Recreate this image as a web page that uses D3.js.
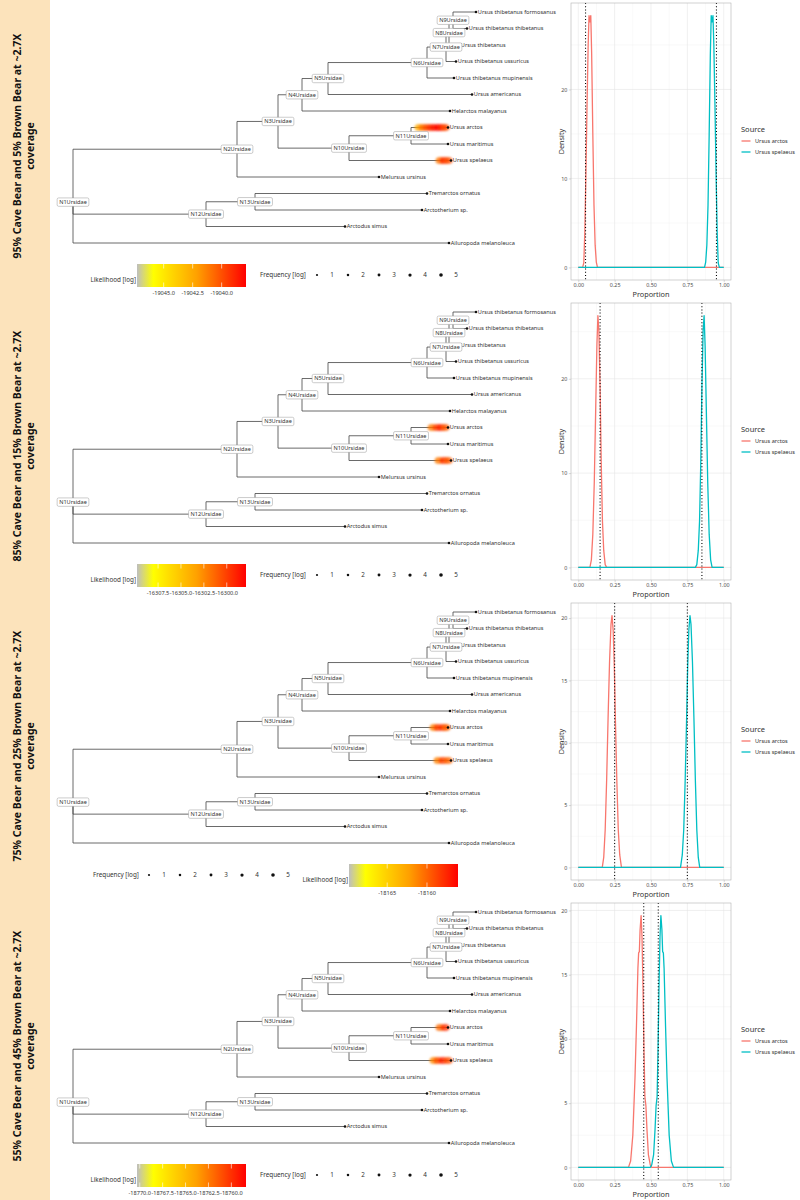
<!DOCTYPE html>
<html><head><meta charset="utf-8">
<script src="https://cdn.jsdelivr.net/npm/d3@7"></script>
<style>body{margin:0;background:#fff;} svg{display:block;font-family:"Noto Sans",sans-serif;}</style>
</head><body><svg id="c" width="800" height="1200"></svg>
<script>
// ---------------- DATA ----------------
const rowTitles = [
  ["95% Cave Bear and 5% Brown Bear at ~2.7X", "coverage"],
  ["85% Cave Bear and 15% Brown Bear at ~2.7X", "coverage"],
  ["75% Cave Bear and 25% Brown Bear at ~2.7X", "coverage"],
  ["55% Cave Bear and 45% Brown Bear at ~2.7X", "coverage"]
];
const sources = ["Ursus arctos", "Ursus spelaeus"];
const trueProportions = [[0.05, 0.95], [0.15, 0.85], [0.25, 0.75], [0.45, 0.55]];

// density curves [proportion, density]
const densityArctos = [
  [[0,0],[0.030,0],[0.038,0.5],[0.045,4],[0.052,10],[0.060,18],[0.068,25],[0.074,28.3],[0.080,27.6],[0.086,28.3],[0.092,24],[0.100,15],[0.108,7],[0.116,2.5],[0.124,0.6],[0.132,0],[1,0]],
  [[0,0],[0.080,0],[0.090,0.8],[0.100,3.5],[0.110,9],[0.120,17],[0.128,23.5],[0.135,26.7],[0.142,25],[0.150,19],[0.158,11],[0.166,5],[0.175,1.8],[0.185,0.3],[0.195,0],[1,0]],
  [[0,0],[0.165,0],[0.175,0.8],[0.185,3],[0.195,7],[0.205,12],[0.215,16.5],[0.225,19.5],[0.232,20.2],[0.240,19],[0.248,16],[0.256,11.5],[0.265,7],[0.275,3],[0.285,1],[0.297,0],[1,0]],
  [[0,0],[0.345,0],[0.360,0.5],[0.375,2.5],[0.390,7],[0.400,11],[0.410,15.5],[0.415,16.7],[0.420,16.8],[0.425,18.5],[0.432,19.6],[0.438,18],[0.445,14],[0.452,9],[0.458,5.5],[0.465,4.8],[0.472,3],[0.482,1],[0.495,0.2],[0.505,0],[1,0]]
];
const densitySpelaeus = [
  [[0,0],[0.868,0],[0.876,0.6],[0.884,2.5],[0.892,7],[0.900,15],[0.908,24],[0.914,28.3],[0.920,27.6],[0.926,28.3],[0.932,25],[0.940,18],[0.948,10],[0.955,4],[0.962,0.5],[0.970,0],[1,0]],
  [[0,0],[0.805,0],[0.815,0.3],[0.825,1.8],[0.834,5],[0.842,11],[0.850,19],[0.858,25],[0.865,26.7],[0.872,23.5],[0.880,17],[0.890,9],[0.900,3.5],[0.910,0.8],[0.920,0],[1,0]],
  [[0,0],[0.703,0],[0.715,1],[0.725,3],[0.735,7],[0.744,11.5],[0.752,16],[0.760,19],[0.768,20.2],[0.775,19.5],[0.785,16.5],[0.795,12],[0.805,7],[0.815,3],[0.825,0.8],[0.835,0],[1,0]],
  [[0,0],[0.495,0],[0.505,0.2],[0.518,1],[0.528,3],[0.535,4.8],[0.542,5.5],[0.548,9],[0.555,14],[0.562,18],[0.568,19.6],[0.575,18.5],[0.580,16.8],[0.585,16.7],[0.590,15.5],[0.600,11],[0.610,7],[0.625,2.5],[0.640,0.5],[0.655,0],[1,0]]
];

// tree: tips in plotting order (top to bottom)
const tipOrder = [
  "Ursus thibetanus formosanus","Ursus thibetanus thibetanus","Ursus thibetanus",
  "Ursus thibetanus ussuricus","Ursus thibetanus mupinensis","Ursus americanus",
  "Helarctos malayanus","Ursus arctos","Ursus maritimus","Ursus spelaeus",
  "Melursus ursinus","Tremarctos ornatus","Arctotherium sp.","Arctodus simus",
  "Ailuropoda melanoleuca"
];
// [node, parent, distance from root]
const treeNodes = [
  ["N1Ursidae", null, 0],
  ["N2Ursidae", "N1Ursidae", 1.64],
  ["N3Ursidae", "N2Ursidae", 2.05],
  ["N4Ursidae", "N3Ursidae", 2.29],
  ["N5Ursidae", "N4Ursidae", 2.55],
  ["N6Ursidae", "N5Ursidae", 3.54],
  ["N7Ursidae", "N6Ursidae", 3.73],
  ["N8Ursidae", "N7Ursidae", 3.76],
  ["N9Ursidae", "N8Ursidae", 3.80],
  ["Ursus thibetanus formosanus", "N9Ursidae", 4.03],
  ["Ursus thibetanus thibetanus", "N9Ursidae", 3.94],
  ["Ursus thibetanus", "N8Ursidae", 3.86],
  ["Ursus thibetanus ussuricus", "N7Ursidae", 3.83],
  ["Ursus thibetanus mupinensis", "N6Ursidae", 3.81],
  ["Ursus americanus", "N5Ursidae", 3.99],
  ["Helarctos malayanus", "N4Ursidae", 3.77],
  ["N10Ursidae", "N3Ursidae", 2.76],
  ["N11Ursidae", "N10Ursidae", 3.38],
  ["Ursus arctos", "N11Ursidae", 3.75],
  ["Ursus maritimus", "N11Ursidae", 3.75],
  ["Ursus spelaeus", "N10Ursidae", 3.78],
  ["Melursus ursinus", "N2Ursidae", 3.06],
  ["N12Ursidae", "N1Ursidae", 1.33],
  ["N13Ursidae", "N12Ursidae", 1.82],
  ["Tremarctos ornatus", "N13Ursidae", 3.54],
  ["Arctotherium sp.", "N13Ursidae", 3.49],
  ["Arctodus simus", "N12Ursidae", 2.72],
  ["Ailuropoda melanoleuca", "N1Ursidae", 3.76]
];

// likelihood colour bar ranges and ticks per row
const likelihoodDomains = [[-19047.3, -19037.9], [-16309.8, -16297.9], [-18169.8, -18156.1], [-18770.3, -18758.4]];
const likelihoodTicks = [
  [-19045.0, -19042.5, -19040.0],
  [-16307.5, -16305.0, -16302.5, -16300.0],
  [-18165, -18160],
  [-18770.0, -18767.5, -18765.0, -18762.5, -18760.0]
];
const likelihoodTickFormats = [".1f", ".1f", "d", ".1f"];

// placements: [tip branch, distance from root, log likelihood]
const placements = [
  [["Ursus arctos",3.46,-19042.5],["Ursus arctos",3.50,-19041],["Ursus arctos",3.54,-19040],["Ursus arctos",3.58,-19039.2],["Ursus arctos",3.62,-19038.6],["Ursus arctos",3.66,-19038.3],["Ursus arctos",3.69,-19038.8],["Ursus arctos",3.72,-19040],
   ["Ursus spelaeus",3.67,-19041],["Ursus spelaeus",3.71,-19039],["Ursus spelaeus",3.75,-19040]],
  [["Ursus arctos",3.59,-16302],["Ursus arctos",3.64,-16300],["Ursus arctos",3.68,-16299],["Ursus arctos",3.72,-16301],
   ["Ursus spelaeus",3.66,-16302],["Ursus spelaeus",3.71,-16299.5],["Ursus spelaeus",3.75,-16301]],
  [["Ursus arctos",3.61,-18161],["Ursus arctos",3.65,-18158.5],["Ursus arctos",3.70,-18158],["Ursus arctos",3.73,-18160],
   ["Ursus spelaeus",3.65,-18161],["Ursus spelaeus",3.70,-18158.5],["Ursus spelaeus",3.75,-18160]],
  [["Ursus arctos",3.67,-18762],["Ursus arctos",3.72,-18760],
   ["Ursus spelaeus",3.61,-18763],["Ursus spelaeus",3.65,-18761],["Ursus spelaeus",3.70,-18759.5],["Ursus spelaeus",3.75,-18761]]
];
const frequencyLevels = [1, 2, 3, 4, 5];

// ---------------- DRAW ----------------
const svg = d3.select("#c");
const ROW = 300;
const seriesColor = d3.scaleOrdinal().domain(sources).range(["#F8766D", "#00BFC4"]);
const defs = svg.append("defs");
defs.append("filter").attr("id", "soft").attr("x", "-50%").attr("y", "-50%").attr("width", "200%").attr("height", "200%")
  .append("feGaussianBlur").attr("stdDeviation", 0.9);

// side strip
svg.append("rect").attr("x", 0).attr("y", 0).attr("width", 50).attr("height", 1200).attr("fill", "#FCE3BB");

// tree structure
const distOf = new Map(treeNodes.map(d => [d[0], d[2]]));
const childrenOf = new Map();
treeNodes.forEach(d => { if (d[1]) { if (!childrenOf.has(d[1])) childrenOf.set(d[1], []); childrenOf.get(d[1]).push(d[0]); } });
const xTree = d3.scaleLinear().domain([0, 4.03]).range([73, 476]);
const yTip = d3.scaleLinear().domain([0, tipOrder.length - 1]).range([12, 243]);
const yIndex = new Map();
function nodeY(n) {
  if (yIndex.has(n)) return yIndex.get(n);
  let v;
  if (childrenOf.has(n)) v = d3.mean(childrenOf.get(n), nodeY);
  else v = yTip(tipOrder.indexOf(n));
  yIndex.set(n, v); return v;
}
treeNodes.forEach(d => nodeY(d[0]));

for (let r = 0; r < 4; r++) {
  const top = r * ROW;
  const g = svg.append("g");

  // row title
  const tx = 23, ty = top + 146;
  const t = g.append("text").attr("transform", `translate(${tx},${ty}) rotate(-90)`)
    .attr("text-anchor", "middle").attr("font-size", 10.5).attr("font-weight", "bold").attr("fill", "#111");
  t.append("tspan").attr("x", 0).attr("dy", -2).text(rowTitles[r][0]);
  t.append("tspan").attr("x", 0).attr("dy", 13).text(rowTitles[r][1]);

  // --- tree ---
  const gt = g.append("g").attr("transform", `translate(0,${top})`);
  const edges = treeNodes.filter(d => d[1]);
  gt.selectAll("path.edge").data(edges).join("path")
    .attr("fill", "none").attr("stroke", "#444").attr("stroke-width", 0.8)
    .attr("d", d => `M${xTree(distOf.get(d[1]))},${nodeY(d[1])}V${nodeY(d[0])}H${xTree(d[2])}`);

  // likelihood colour
  const [lmin, lmax] = likelihoodDomains[r];
  const lk = d3.scaleLinear().domain([lmin, lmin + 0.15 * (lmax - lmin), lmin + 0.55 * (lmax - lmin), lmax])
    .range(["#bebebe", "#ffff00", "#ffa000", "#ff0000"]).clamp(true);

  // placements
  gt.append("g").attr("filter", "url(#soft)").selectAll("ellipse.pl").data(placements[r]).join("ellipse")
    .attr("cx", d => xTree(d[1])).attr("cy", d => nodeY(d[0]))
    .attr("rx", 4.5).attr("ry", 3.6).attr("fill", d => lk(d[2])).attr("opacity", 0.8);

  // tips
  const tips = tipOrder;
  gt.selectAll("circle.tip").data(tips).join("circle")
    .attr("cx", d => xTree(distOf.get(d))).attr("cy", d => nodeY(d)).attr("r", 1.3).attr("fill", "#111");
  gt.selectAll("text.tip").data(tips).join("text")
    .attr("x", d => xTree(distOf.get(d)) + 1.8).attr("y", d => nodeY(d)).attr("dy", "0.35em")
    .attr("font-size", 5.6).attr("fill", "#333").text(d => d);

  // node labels
  const internals = treeNodes.filter(d => childrenOf.has(d[0]));
  const nl = gt.selectAll("g.nl").data(internals).join("g")
    .attr("transform", d => `translate(${xTree(d[2])},${nodeY(d[0])})`);
  nl.append("text").attr("text-anchor", "middle").attr("dy", "0.35em").attr("font-size", 5.6).attr("fill", "#333").text(d => d[0])
    .each(function () {
      const b = this.getBBox();
      d3.select(this.parentNode).insert("rect", "text").attr("x", b.x - 2).attr("y", -4.2).attr("width", b.width + 4).attr("height", 8.4)
        .attr("rx", 1.5).attr("fill", "#fff").attr("stroke", "#999").attr("stroke-width", 0.5);
    });

  // --- legends ---
  const swap = r === 2;
  const cbX0 = swap ? 349 : 137, cbW = 109, cbY = top + 264, cbH = 23;
  const gradId = "grad" + r;
  const grad = defs.append("linearGradient").attr("id", gradId);
  d3.range(0, 1.0001, 0.05).forEach(f => grad.append("stop").attr("offset", f).attr("stop-color", lk(lmin + f * (lmax - lmin))));
  g.append("rect").attr("x", cbX0).attr("y", cbY).attr("width", cbW).attr("height", cbH).attr("fill", `url(#${gradId})`);
  const lx = d3.scaleLinear().domain([lmin, lmax]).range([cbX0, cbX0 + cbW]);
  const fmt = d3.format(likelihoodTickFormats[r]);
  likelihoodTicks[r].forEach(v => {
    g.append("line").attr("x1", lx(v)).attr("x2", lx(v)).attr("y1", cbY).attr("y2", cbY + 4.5).attr("stroke", "#fff").attr("stroke-width", 0.6);
    g.append("line").attr("x1", lx(v)).attr("x2", lx(v)).attr("y1", cbY + cbH - 4.5).attr("y2", cbY + cbH).attr("stroke", "#fff").attr("stroke-width", 0.6);
    g.append("text").attr("x", lx(v)).attr("y", cbY + cbH + 6).attr("dy", "0.35em").attr("text-anchor", "middle")
      .attr("font-size", 5.6).attr("fill", "#333").text(fmt(v).replace("−", "-"));
  });
  g.append("text").attr("x", cbX0 - 1).attr("y", top + 280).attr("dy", "0.35em").attr("text-anchor", "end")
    .attr("font-size", 6.3).attr("fill", "#333").text("Likelihood [log]");

  // frequency legend
  const fTitleX = swap ? 93 : 260;
  const fx = d3.scalePoint().domain(frequencyLevels).range(swap ? [149, 273] : [317, 441]);
  const fr = d3.scaleLinear().domain([1, 5]).range([1.1, 1.8]);
  const fy = top + 275;
  g.append("text").attr("x", fTitleX).attr("y", fy).attr("dy", "0.35em").attr("font-size", 6.3).attr("fill", "#333").text("Frequency [log]");
  frequencyLevels.forEach(v => {
    g.append("circle").attr("cx", fx(v)).attr("cy", fy).attr("r", fr(v)).attr("fill", "#111");
    g.append("text").attr("x", fx(v) + 15).attr("y", fy).attr("dy", "0.35em").attr("text-anchor", "middle").attr("font-size", 6.3).attr("fill", "#333").text(v);
  });

  // --- density plot ---
  const pL = 571, pR = 731, pT = top + 3, pB = top + 280;
  const ymax = d3.max([...densityArctos[r], ...densitySpelaeus[r]], d => d[1]);
  const xD = d3.scaleLinear().domain([-0.05, 1.05]).range([pL, pR]);
  const yD = d3.scaleLinear().domain([-0.05 * ymax, 1.05 * ymax]).range([pB, pT]);
  const gd = g.append("g");
  gd.append("rect").attr("x", pL).attr("y", pT).attr("width", pR - pL).attr("height", pB - pT).attr("fill", "#fff");
  const xMaj = [0, 0.25, 0.5, 0.75, 1];
  const xMin = [0.125, 0.375, 0.625, 0.875];
  const yMaj = yD.ticks(4).filter(v => v >= 0);
  const step = yMaj[1] - yMaj[0];
  const yMin = yMaj.map(v => v + step / 2).filter(v => yD(v) > pT);
  gd.selectAll("line.xmin").data(xMin).join("line").attr("x1", d => xD(d)).attr("x2", d => xD(d)).attr("y1", pT).attr("y2", pB).attr("stroke", "#f0f0f0").attr("stroke-width", 0.4);
  gd.selectAll("line.ymin").data(yMin).join("line").attr("y1", d => yD(d)).attr("y2", d => yD(d)).attr("x1", pL).attr("x2", pR).attr("stroke", "#f0f0f0").attr("stroke-width", 0.4);
  gd.selectAll("line.xmaj").data(xMaj).join("line").attr("x1", d => xD(d)).attr("x2", d => xD(d)).attr("y1", pT).attr("y2", pB).attr("stroke", "#e5e5e5").attr("stroke-width", 0.6);
  gd.selectAll("line.ymaj").data(yMaj).join("line").attr("y1", d => yD(d)).attr("y2", d => yD(d)).attr("x1", pL).attr("x2", pR).attr("stroke", "#e5e5e5").attr("stroke-width", 0.6);

  const line = d3.line().x(d => xD(d[0])).y(d => yD(d[1]));
  const curves = [[sources[0], densityArctos[r]], [sources[1], densitySpelaeus[r]]];
  gd.selectAll("path.dens").data(curves).join("path").attr("fill", "none")
    .attr("stroke", d => seriesColor(d[0])).attr("stroke-width", 1.3).attr("stroke-linejoin", "round")
    .attr("d", d => line(d[1]));
  gd.selectAll("line.truth").data(trueProportions[r]).join("line")
    .attr("x1", d => xD(d)).attr("x2", d => xD(d)).attr("y1", pT).attr("y2", pB)
    .attr("stroke", "#000").attr("stroke-width", 1.1).attr("stroke-dasharray", "1,2.2");
  gd.append("rect").attr("x", pL).attr("y", pT).attr("width", pR - pL).attr("height", pB - pT).attr("fill", "none").attr("stroke", "#b3b3b3").attr("stroke-width", 0.6);

  // axes
  const ax = gd.append("g").attr("transform", `translate(0,${pB})`).call(d3.axisBottom(xD).tickValues(xMaj).tickFormat(d3.format(".2f")).tickSize(2.2).tickPadding(1));
  const ay = gd.append("g").attr("transform", `translate(${pL},0)`).call(d3.axisLeft(yD).tickValues(yMaj).tickFormat(d3.format("d")).tickSize(2.2).tickPadding(1.5));
  [ax, ay].forEach(a => {
    a.select(".domain").remove();
    a.selectAll(".tick line").attr("stroke", "#b3b3b3").attr("stroke-width", 0.5);
    a.selectAll(".tick text").attr("font-size", 5.4).attr("fill", "#4d4d4d").attr("font-family", "Noto Sans");
  });
  gd.append("text").attr("x", (pL + pR) / 2).attr("y", pB + 14.8).attr("dy", "0.35em").attr("text-anchor", "middle").attr("font-size", 7.3).attr("fill", "#333").text("Proportion");
  gd.append("text").attr("transform", `translate(561,${(pT + pB) / 2}) rotate(-90)`).attr("text-anchor", "middle").attr("dy", "0.35em").attr("font-size", 7.3).attr("fill", "#333").text("Density");

  // colour legend
  const lg = gd.append("g").attr("transform", `translate(741,${top + 129})`);
  lg.append("text").attr("x", 0).attr("y", 0).attr("dy", "0.35em").attr("font-size", 7.5).attr("fill", "#333").text("Source");
  sources.forEach((s, i) => {
    const yy = 12 + i * 11;
    lg.append("line").attr("x1", 0.5).attr("x2", 9.5).attr("y1", yy).attr("y2", yy).attr("stroke", seriesColor(s)).attr("stroke-width", 1.3);
    lg.append("text").attr("x", 14).attr("y", yy).attr("dy", "0.35em").attr("font-size", 5.6).attr("fill", "#333").text(s);
  });
}
</script></body></html>
